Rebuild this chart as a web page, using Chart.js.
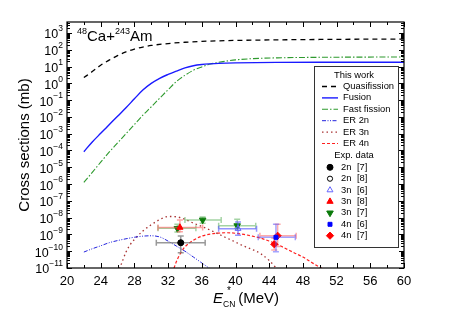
<!DOCTYPE html>
<html>
<head>
<meta charset="utf-8">
<script src="https://cdn.jsdelivr.net/npm/chart.js@4.4.1/dist/chart.umd.min.js"></script>
<style>
  html, body { margin: 0; background: #fff; }
  canvas { display: block; }
</style>
</head>
<body>
<canvas id="c" width="449" height="314" style="width:449px;height:314px"></canvas>
<script>
// axis ticks
const xTickLabels = [20, 24, 28, 32, 36, 40, 44, 48, 52, 56, 60];
const xMinorTicks = [22, 26, 30, 34, 38, 42, 46, 50, 54, 58];
const yTickExponents = [-11, -10, -9, -8, -7, -6, -5, -4, -3, -2, -1, 0, 1, 2, 3];

// model curves (mb)
const eQF = [22, 23, 24, 25, 26, 27, 28, 29, 30, 32, 34, 36, 38, 40, 45, 50, 55, 60];
const sQF = [2.2, 5, 12, 24, 45, 75, 110, 145, 180, 235, 280, 315, 340, 360, 390, 410, 425, 435];

const eFus = [22, 23, 24, 25, 26, 27, 28, 29, 30, 31, 32, 33, 34, 35, 36, 37, 38, 40, 45, 50, 55, 60];
const sFus = [8.5e-5, 3.2e-4, 1.05e-3, 3.4e-3, 0.011, 0.035, 0.12, 0.4, 1.0, 2.0, 3.4, 5.4, 8.3, 11.2, 13.2, 14.5, 15.5, 16.6, 17.8, 18.2, 18.2, 18.2];

const eFF = [22, 23, 24, 25, 26, 27, 28, 29, 30, 31, 32, 33, 34, 35, 36, 37, 38, 39, 40, 42, 45, 50, 55, 60];
const sFF = [1.25e-6, 5e-6, 2e-5, 7.9e-5, 2.8e-4, 1e-3, 3.5e-3, 0.0126, 0.04, 0.13, 0.42, 1.3, 3.0, 6.0, 9.5, 14, 17.8, 21.4, 25, 29.5, 33, 35.5, 36.5, 37];

const e2n = [22, 23, 24, 25, 26, 27, 28, 29, 30, 31, 32, 33, 34, 35, 36, 37, 38];
const s2n = [8.9e-11, 1.4e-10, 2.1e-10, 3.2e-10, 4.3e-10, 5.5e-10, 6.8e-10, 7.9e-10, 8.3e-10, 7.1e-10, 4.0e-10, 2.0e-10, 1.0e-10, 4.5e-11, 2.0e-11, 8.9e-12, 4e-12];

const e3n = [26, 26.5, 27, 27.5, 28, 29, 30, 31, 32, 33, 34, 35, 36, 37, 38, 39, 40, 41, 42, 43, 44, 45];
const s3n = [5e-12, 2e-11, 8.9e-11, 2.5e-10, 5e-10, 1.6e-9, 3.8e-9, 7.6e-9, 1.17e-8, 1.12e-8, 7.9e-9, 4.7e-9, 3.0e-9, 1.8e-9, 1.05e-9, 6.0e-10, 3.5e-10, 2.0e-10, 1.26e-10, 7.1e-11, 2.8e-11, 7.9e-12];

const e4n = [32.5, 33, 33.5, 34, 35, 36, 37, 38, 39, 40, 41, 42, 43, 44, 45, 46, 47, 48, 49, 50, 51];
const s4n = [5e-12, 2.5e-11, 7.9e-11, 1.8e-10, 4.5e-10, 7.9e-10, 1.05e-9, 1.2e-9, 1.26e-9, 1.17e-9, 1.0e-9, 7.9e-10, 6.0e-10, 4.0e-10, 2.5e-10, 1.4e-10, 7.9e-11, 4.5e-11, 2.2e-11, 1.1e-11, 6.3e-12];

// experimental data: energy, sigma, x range, y range
const e2n7 = [33.5], s2n7 = [3.2e-10], xr2n7 = [[30.6, 36.4]], yr2n7 = [[8e-11, 8e-10]];
const e2n8 = [33.5], s2n8 = [3.2e-10], xr2n8 = [null], yr2n8 = [null];
const e3n6 = [40.3], s3n6 = [2.2e-9], xr3n6 = [[38.0, 42.5]], yr3n6 = [[9e-10, 5.5e-9]];
const e3n8 = [33.4], s3n8 = [2.6e-9], xr3n8 = [[30.8, 36.1]], yr3n8 = [[1.45e-9, 7.2e-9]];
const e3n7 = [33.1, 36.1, 40.2], s3n7 = [2.3e-9, 7.2e-9, 3.3e-9];
const xr3n7 = [[30.8, 35.3], [34.0, 38.3], [38.0, 42.4]], yr3n7 = [[1.4e-9, 4e-9], [4.6e-9, 1.1e-8], [2.3e-9, 7.9e-9]];
const e4n6 = [44.8], s4n6 = [6.7e-10], xr4n6 = [[42.7, 47.1]], yr4n6 = [[9.3e-11, 4e-9]];
const e4n7 = [45.0, 44.6], s4n7 = [8.3e-10, 2.6e-10], xr4n7 = [[42.9, 47.2], null], yr4n7 = [[1.9e-10, 4e-9], [1.2e-10, 6e-10]];

const FONT = '"Liberation Sans", Arial, Helvetica, sans-serif';
const pts = (xs, ys) => xs.map((x, i) => ({ x, y: ys[i] }));

function curve(label, xs, ys, color, dash, width) {
  return {
    label, data: pts(xs, ys), showLine: true, borderColor: color, borderWidth: width,
    borderDash: dash, pointRadius: 0, fill: false, cubicInterpolationMode: 'monotone',
    order: 1, group: 'model'
  };
}
function exp(label, xs, ys, xr, yr, style, color, fill, errColor, radius, rotation) {
  return {
    label, data: pts(xs, ys), showLine: false, pointStyle: style, pointRadius: radius,
    pointRotation: rotation || 0, pointBackgroundColor: fill, pointBorderColor: color,
    pointBorderWidth: 1, order: 0, group: 'exp', xr, yr, errColor
  };
}

const datasets = [
  curve('Quasifission', eQF, sQF, '#000000', [5, 4], 1.3),
  curve('Fusion', eFus, sFus, '#1a1aff', [], 1.4),
  curve('Fast fission', eFF, sFF, '#2e9a2e', [6, 2, 1.5, 2], 1.1),
  curve('ER 2n', e2n, s2n, '#2222dd', [4, 1.5, 1, 1.5, 1, 1.5], 1),
  curve('ER 3n', e3n, s3n, '#a83232', [1.5, 3], 1.3),
  curve('ER 4n', e4n, s4n, '#ff2020', [3, 2], 1.2),
  exp('2n', e2n7, s2n7, xr2n7, yr2n7, 'circle', '#000', '#000', 'rgba(110,110,110,0.7)', 3),
  exp('2n', e2n8, s2n8, xr2n8, yr2n8, 'circle', '#000', 'rgba(0,0,0,0)', '#888', 2.6),
  exp('3n', e3n6, s3n6, xr3n6, yr3n6, 'triangle', '#6666ff', 'rgba(0,0,0,0)', 'rgba(90,90,255,0.65)', 3.4),
  exp('3n', e3n8, s3n8, xr3n8, yr3n8, 'triangle', '#ff0000', '#ff0000', 'rgba(255,90,90,0.55)', 3.6),
  exp('3n', e3n7, s3n7, xr3n7, yr3n7, 'triangle', '#0a7a0a', '#0a7a0a', 'rgba(90,175,90,0.55)', 3.8, 180),
  exp('4n', e4n6, s4n6, xr4n6, yr4n6, 'rect', '#0000ff', '#0000ff', 'rgba(90,90,255,0.55)', 2.8),
  exp('4n', e4n7, s4n7, xr4n7, yr4n7, 'rectRot', '#ff0000', '#ff0000', 'rgba(255,100,100,0.55)', 3.6)
];
const legendRefs = ['[7]', '[8]', '[6]', '[8]', '[7]', '[6]', '[7]'];

const errorBars = {
  id: 'errorBars',
  beforeDatasetDraw(chart, args) {
    const ds = chart.data.datasets[args.index];
    if (!ds.xr) return;
    const { ctx, chartArea: a, scales: { x, y } } = chart;
    ctx.save();
    ctx.beginPath();
    ctx.rect(a.left, a.top, a.right - a.left, a.bottom - a.top);
    ctx.clip();
    ctx.strokeStyle = ds.errColor;
    ctx.lineWidth = 1.5;
    ds.data.forEach((p, i) => {
      const px = x.getPixelForValue(p.x), py = y.getPixelForValue(p.y);
      const xr = ds.xr[i], yr = ds.yr[i];
      ctx.beginPath();
      if (xr) {
        const l = x.getPixelForValue(xr[0]), r = x.getPixelForValue(xr[1]);
        ctx.moveTo(l, py); ctx.lineTo(r, py);
        ctx.moveTo(l, py - 3); ctx.lineTo(l, py + 3);
        ctx.moveTo(r, py - 3); ctx.lineTo(r, py + 3);
      }
      if (yr) {
        const b = y.getPixelForValue(yr[0]), t = y.getPixelForValue(yr[1]);
        ctx.moveTo(px, b); ctx.lineTo(px, t);
        ctx.moveTo(px - 3, b); ctx.lineTo(px + 3, b);
        ctx.moveTo(px - 3, t); ctx.lineTo(px + 3, t);
      }
      ctx.stroke();
    });
    ctx.restore();
  }
};

function drawMarker(ctx, ds, cx, cy) {
  ctx.fillStyle = ds.pointBackgroundColor;
  ctx.strokeStyle = ds.pointBorderColor;
  ctx.lineWidth = ds.pointBorderWidth;
  Chart.helpers.drawPoint(ctx, {
    pointStyle: ds.pointStyle, radius: ds.pointRadius, rotation: ds.pointRotation, borderWidth: 1
  }, cx, cy);
}

const decor = {
  id: 'decor',
  afterDraw(chart) {
    const { ctx, chartArea: a, scales: { x, y } } = chart;
    ctx.save();
    // frame
    ctx.strokeStyle = '#000';
    ctx.lineWidth = 1.2;
    ctx.strokeRect(a.left, a.top, a.right - a.left, a.bottom - a.top);
    // x ticks, inward on bottom and top
    ctx.lineWidth = 1;
    ctx.beginPath();
    xTickLabels.forEach(v => {
      const px = Math.round(x.getPixelForValue(v)) + 0.5;
      ctx.moveTo(px, a.bottom); ctx.lineTo(px, a.bottom - 5);
      ctx.moveTo(px, a.top); ctx.lineTo(px, a.top + 5);
    });
    xMinorTicks.forEach(v => {
      const px = Math.round(x.getPixelForValue(v)) + 0.5;
      ctx.moveTo(px, a.bottom); ctx.lineTo(px, a.bottom - 3);
      ctx.moveTo(px, a.top); ctx.lineTo(px, a.top + 3);
    });
    // y ticks, inward on left and right
    yTickExponents.forEach(e => {
      const py = Math.round(y.getPixelForValue(Math.pow(10, e))) + 0.5;
      ctx.moveTo(a.left, py); ctx.lineTo(a.left + 5, py);
      ctx.moveTo(a.right, py); ctx.lineTo(a.right - 5, py);
      for (let m = 2; m <= 9; m++) {
        const v = m * Math.pow(10, e);
        if (v > y.max) break;
        const pm = Math.round(y.getPixelForValue(v)) + 0.5;
        ctx.moveTo(a.left, pm); ctx.lineTo(a.left + 3, pm);
        ctx.moveTo(a.right, pm); ctx.lineTo(a.right - 3, pm);
      }
    });
    ctx.stroke();

    // tick labels
    ctx.fillStyle = '#000';
    ctx.font = '13px ' + FONT;
    ctx.textAlign = 'center';
    ctx.textBaseline = 'middle';
    xTickLabels.forEach(v => ctx.fillText(String(v), x.getPixelForValue(v), a.bottom + 13));
    yTickExponents.forEach(e => {
      const py = y.getPixelForValue(Math.pow(10, e));
      const sup = String(e).replace('-', '\u2212');
      ctx.font = '8.5px ' + FONT;
      const ws = ctx.measureText(sup).width;
      ctx.textAlign = 'left';
      ctx.fillText(sup, a.left - 4 - ws, py - 4);
      ctx.font = '12.5px ' + FONT;
      ctx.textAlign = 'right';
      ctx.fillText('10', a.left - 4 - ws, py + 2);
    });

    // axis titles
    ctx.save();
    ctx.translate(25, (a.top + a.bottom) / 2);
    ctx.rotate(-Math.PI / 2);
    ctx.font = '15px ' + FONT;
    ctx.textAlign = 'center';
    ctx.fillText('Cross sections (mb)', 0, 0);
    ctx.restore();

    ctx.textAlign = 'left';
    ctx.textBaseline = 'alphabetic';
    let tx = 213;
    ctx.font = 'italic 15px ' + FONT;
    ctx.fillText('E', tx, 303);
    tx += ctx.measureText('E').width;
    ctx.font = '8.5px ' + FONT;
    ctx.fillText('CN', tx, 307);
    const wcn = ctx.measureText('CN').width;
    ctx.font = '10px ' + FONT;
    ctx.fillText('*', tx + 4, 294);
    tx += wcn + 3;
    ctx.font = '15px ' + FONT;
    ctx.fillText('(MeV)', tx, 303);

    // reaction label
    tx = 77;
    ctx.font = '9px ' + FONT;
    ctx.fillText('48', tx, 34);
    tx += ctx.measureText('48').width;
    ctx.font = '15px ' + FONT;
    ctx.fillText('Ca+', tx, 41);
    tx += ctx.measureText('Ca+').width;
    ctx.font = '9px ' + FONT;
    ctx.fillText('243', tx, 34);
    tx += ctx.measureText('243').width;
    ctx.font = '15px ' + FONT;
    ctx.fillText('Am', tx, 41);

    // legend
    const bx = 314, by = 66, bw = 84, bh = 181;
    ctx.fillStyle = '#fff';
    ctx.fillRect(bx, by, bw, bh);
    ctx.strokeStyle = '#333';
    ctx.lineWidth = 1;
    ctx.strokeRect(bx + 0.5, by + 0.5, bw, bh);
    ctx.fillStyle = '#000';
    ctx.font = '9.4px ' + FONT;
    ctx.textBaseline = 'middle';
    ctx.textAlign = 'center';
    ctx.fillText('This work', 354, 75);
    ctx.fillText('Exp. data', 354, 155.5);
    ctx.textAlign = 'left';
    const dsAll = chart.data.datasets;
    const models = dsAll.filter(d => d.group === 'model');
    models.forEach((d, i) => {
      const ly = 86.5 + i * 11.4;
      ctx.strokeStyle = d.borderColor;
      ctx.lineWidth = d.borderWidth;
      ctx.setLineDash(d.borderDash);
      ctx.beginPath();
      ctx.moveTo(322, ly); ctx.lineTo(338, ly);
      ctx.stroke();
      ctx.setLineDash([]);
      ctx.fillStyle = '#000';
      ctx.fillText(d.label, 343, ly);
    });
    const exps = dsAll.filter(d => d.group === 'exp');
    exps.forEach((d, i) => {
      const ly = 167.3 + i * 11.4;
      drawMarker(ctx, d, 330, ly);
      ctx.fillStyle = '#000';
      ctx.fillText(d.label, 341, ly);
      ctx.fillText(legendRefs[i], 357, ly);
    });
    ctx.restore();
  }
};

new Chart(document.getElementById('c'), {
  type: 'scatter',
  data: { datasets },
  options: {
    responsive: false,
    animation: false,
    devicePixelRatio: 1,
    layout: { padding: { left: 67, right: 45, top: 22, bottom: 46 } },
    plugins: { legend: { display: false }, tooltip: { enabled: false } },
    scales: {
      x: {
        type: 'linear', min: 20, max: 60,
        grid: { display: false }, border: { display: false },
        ticks: { display: false },
        afterFit(s) { s.height = 0; }
      },
      y: {
        type: 'logarithmic', min: 1e-11, max: 4500,
        grid: { display: false }, border: { display: false },
        ticks: { display: false },
        afterFit(s) { s.width = 0; }
      }
    }
  },
  plugins: [errorBars, decor]
});
</script>
</body>
</html>
